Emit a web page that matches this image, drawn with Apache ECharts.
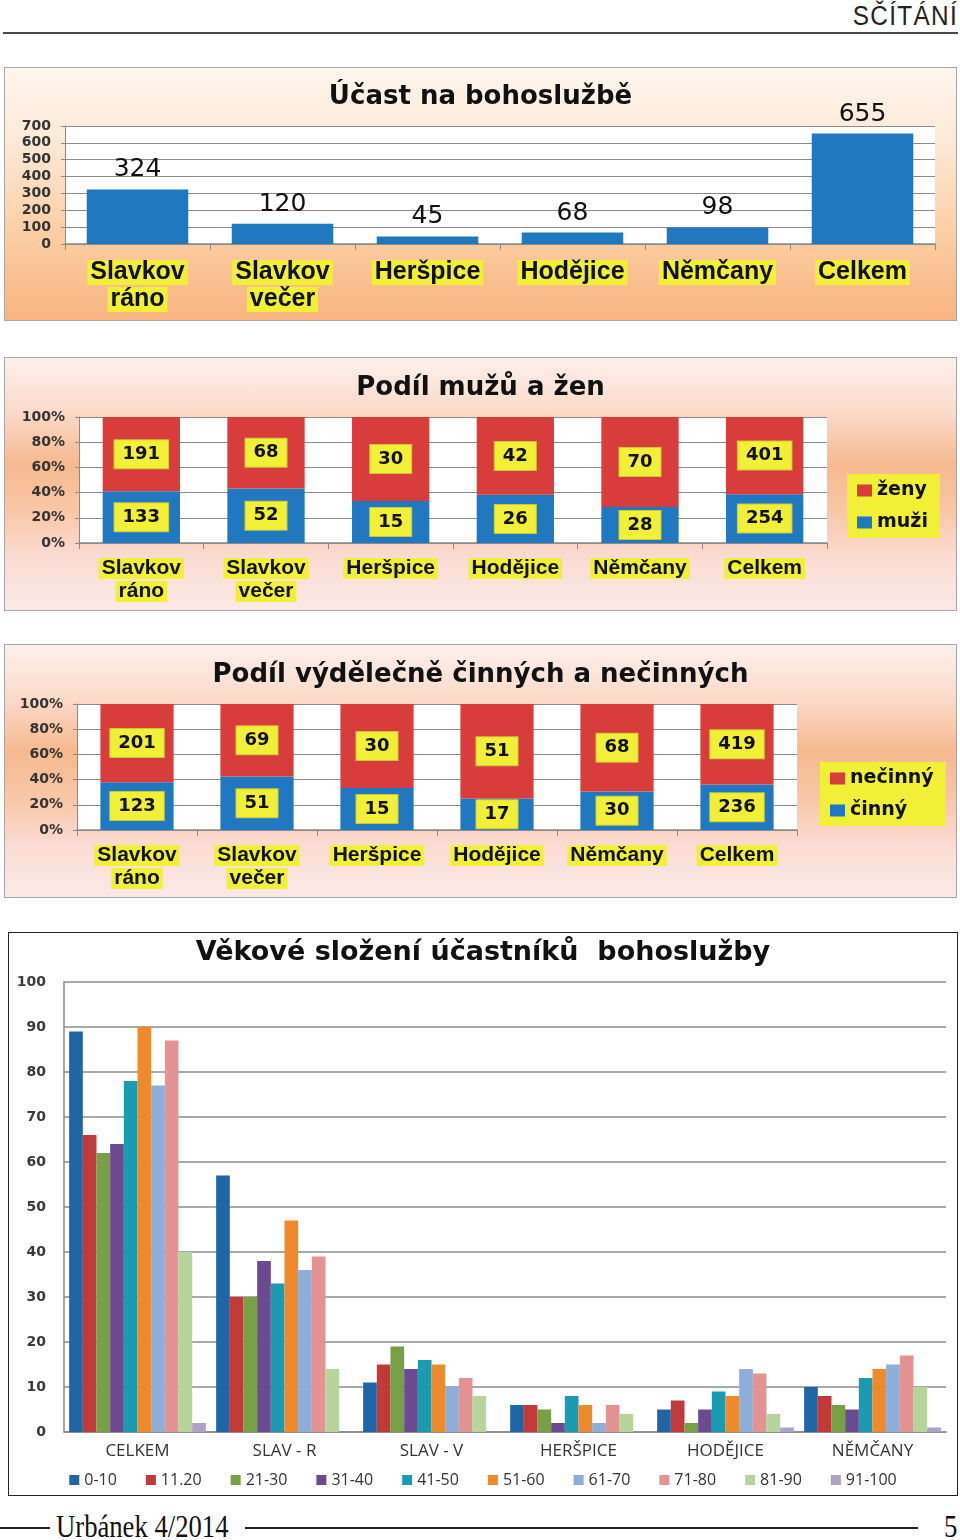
<!DOCTYPE html>
<html>
<head>
<meta charset="utf-8">
<script src="https://cdn.jsdelivr.net/npm/echarts@6/dist/echarts.min.js"></script>
<style>
  html, body { margin:0; padding:0; background:#fff; }
  body { width:960px; height:1540px; position:relative; overflow:hidden; }
  .box { position:absolute; box-sizing:border-box; }
  .chart { position:absolute; left:0; top:0; width:100%; height:100%; }
  #hdr { position:absolute; right:2px; top:1px; font-family:"Liberation Sans", Arial, sans-serif; font-size:27px; color:#222; letter-spacing:1.5px; transform:scaleX(0.9); transform-origin:right top; }
  #hdrline { position:absolute; left:3px; top:32px; width:955px; height:2px; background:#4a4a4a; }
  .fline { position:absolute; height:1.5px; background:#222; top:1527px; }
  .ftxt { position:absolute; font-family:"Liberation Serif", "Times New Roman", serif; font-size:31px; color:#111; top:1509px; transform:scaleX(0.86); transform-origin:left top; white-space:nowrap; }
</style>
</head>
<body>
<div id="hdr">SČÍTÁNÍ</div>
<div id="hdrline"></div>

<div class="box" style="left:4px;top:67px;width:953px;height:254px;border:1.5px solid #a6a6a6;background:linear-gradient(to bottom,#fef6ee 0%,#fde8d4 30%,#fbcfa6 65%,#f8b37e 100%);">
  <div id="c1" class="chart"></div>
</div>
<div class="box" style="left:4px;top:357px;width:953px;height:254px;border:1.5px solid #a6a6a6;background:linear-gradient(to bottom,#fdf0ec 0%,#fbd9c8 22%,#f7b98f 42%,#f8c6a6 60%,#fbdcd4 80%,#fce9e6 100%);">
  <div id="c2" class="chart"></div>
</div>
<div class="box" style="left:4px;top:644px;width:953px;height:254px;border:1.5px solid #a6a6a6;background:linear-gradient(to bottom,#fdf0ec 0%,#fbd9c8 22%,#f7b98f 42%,#f8c6a6 60%,#fbdcd4 80%,#fce9e6 100%);">
  <div id="c3" class="chart"></div>
</div>
<div class="box" style="left:8px;top:932px;width:950px;height:564px;border:1.5px solid #222;background:#fff;">
  <div id="c4" class="chart"></div>
</div>

<div class="fline" style="left:0;width:50px;"></div>
<div class="ftxt" style="left:56px;">Urbánek 4/2014</div>
<div class="fline" style="left:245px;width:673px;"></div>
<div class="ftxt" style="left:944px;">5</div>

<script>
// ---------- DATA ----------
var attendanceCategories = ['Slavkov\nráno', 'Slavkov\nvečer', 'Heršpice', 'Hodějice', 'Němčany', 'Celkem'];
var attendanceValues = [324, 120, 45, 68, 98, 655];
var attendanceTicks = [0, 100, 200, 300, 400, 500, 600, 700];

var genderCategories = ['Slavkov\nráno', 'Slavkov\nvečer', 'Heršpice', 'Hodějice', 'Němčany', 'Celkem'];
var womenCounts = [191, 68, 30, 42, 70, 401];
var menCounts = [133, 52, 15, 26, 28, 254];

var workCategories = ['Slavkov\nráno', 'Slavkov\nvečer', 'Heršpice', 'Hodějice', 'Němčany', 'Celkem'];
var inactiveCounts = [201, 69, 30, 51, 68, 419];
var activeCounts = [123, 51, 15, 17, 30, 236];

var ageCategories = ['CELKEM', 'SLAV - R', 'SLAV - V', 'HERŠPICE', 'HODĚJICE', 'NĚMČANY'];
var ageGroups = ['0-10', '11.20', '21-30', '31-40', '41-50', '51-60', '61-70', '71-80', '81-90', '91-100'];
var age_0_10   = [89, 57, 11, 6, 5, 10];
var age_11_20  = [66, 30, 15, 6, 7, 8];
var age_21_30  = [62, 30, 19, 5, 2, 6];
var age_31_40  = [64, 38, 14, 2, 5, 5];
var age_41_50  = [78, 33, 16, 8, 9, 12];
var age_51_60  = [90, 47, 15, 6, 8, 14];
var age_61_70  = [77, 36, 10, 2, 14, 15];
var age_71_80  = [87, 39, 12, 6, 13, 17];
var age_81_90  = [40, 14, 8, 4, 4, 10];
var age_91_100 = [2, 0, 0, 0, 1, 1];

// ---------- STYLE ----------
var YEL = '#f1ef36';
var RED = '#d83d3c';
var BLUE = '#2078c0';
var TITLE_FONT = '"DejaVu Sans", Verdana, sans-serif';

function catLabel(fontSize, lineHeight, margin) {
  return {
    interval: 0,
    margin: margin,
    formatter: function (v) {
      return v.split('\n').map(function (s) { return '{h|' + s + '}'; }).join('\n');
    },
    rich: {
      h: {
        backgroundColor: YEL, color: '#111', fontWeight: 'bold',
        fontFamily: '"Liberation Sans", Arial, sans-serif',
        fontSize: fontSize, lineHeight: lineHeight, padding: [0, 3]
      }
    }
  };
}

// Chart 1
var c1 = echarts.init(document.getElementById('c1'));
c1.setOption({
  animation: false,
  title: { text: 'Účast na bohoslužbě', left: 'center', top: 11,
    textStyle: { fontFamily: TITLE_FONT, fontWeight: 'bold', fontSize: 26, color: '#111' } },
  grid: { left: 60, right: 21, top: 58, bottom: 76, show: true, backgroundColor: '#fff', borderWidth: 0 },
  xAxis: {
    type: 'category', data: attendanceCategories,
    axisLine: { lineStyle: { color: '#8a8a8a', width: 1.5 } },
    axisTick: { show: true, length: 6, lineStyle: { color: '#8a8a8a' } },
    axisLabel: catLabel(25, 27, 15)
  },
  yAxis: {
    type: 'value', min: attendanceTicks[0], max: attendanceTicks[attendanceTicks.length - 1], interval: 100,
    axisLine: { show: true, lineStyle: { color: '#8a8a8a' } },
    axisTick: { show: true, length: 4, lineStyle: { color: '#8a8a8a' } },
    splitLine: { lineStyle: { color: '#8c8c8c', width: 1.2 } },
    axisLabel: { fontFamily: TITLE_FONT, fontSize: 14, fontWeight: 'bold', color: '#333', margin: 14 }
  },
  series: [{
    type: 'bar', data: attendanceValues, barWidth: '70%',
    itemStyle: { color: BLUE },
    label: { show: true, position: 'top', distance: 7, fontFamily: TITLE_FONT, fontSize: 25, color: '#111' }
  }]
});

var gridLeftMap = { c2: 74, c3: 72 };
function shareChart(el, title, cats, topCounts, botCounts, topName, botName, gridRight, legendLeft, legendTop, barW) {
  var totals = topCounts.map(function (t, i) { return t + botCounts[i]; });
  var botPct = botCounts.map(function (b, i) { return b / totals[i] * 100; });
  var topPct = topCounts.map(function (t, i) { return t / totals[i] * 100; });
  var lbl = function (arr) {
    return {
      show: true, position: 'inside',
      formatter: function (p) { return String(arr[p.dataIndex]); },
      backgroundColor: YEL, borderColor: '#c9c640', borderWidth: 1,
      padding: [6, 8, 4, 8], color: '#111', fontWeight: 'bold',
      fontFamily: TITLE_FONT, fontSize: 18
    };
  };
  var ch = echarts.init(document.getElementById(el));
  ch.setOption({
    animation: false,
    title: { text: title, left: 'center', top: 12,
      textStyle: { fontFamily: TITLE_FONT, fontWeight: 'bold', fontSize: 26, color: '#111' } },
    grid: { left: gridLeftMap[el], right: gridRight, top: 59, bottom: 67, show: true, backgroundColor: '#fff', borderWidth: 0 },
    legend: {
      data: [topName, botName], orient: 'vertical', left: legendLeft, top: legendTop,
      backgroundColor: YEL, padding: [7, 12, 6, 10], itemGap: 13,
      icon: 'rect', itemWidth: 15, itemHeight: 12,
      textStyle: { fontFamily: TITLE_FONT, fontWeight: 'bold', fontSize: 19, color: '#111' }
    },
    xAxis: {
      type: 'category', data: cats,
      axisLine: { lineStyle: { color: '#8a8a8a', width: 1.5 } },
      axisTick: { show: true, length: 6, lineStyle: { color: '#8a8a8a' } },
      axisLabel: catLabel(21, 23, 14)
    },
    yAxis: {
      type: 'value', min: 0, max: 100, interval: 20,
      axisLine: { show: true, lineStyle: { color: '#8a8a8a' } },
      axisTick: { show: true, length: 4, lineStyle: { color: '#8a8a8a' } },
      splitLine: { lineStyle: { color: '#8c8c8c', width: 1.2 } },
      axisLabel: { formatter: '{value}%', fontFamily: TITLE_FONT, fontSize: 14, fontWeight: 'bold', color: '#333', margin: 14 }
    },
    series: [
      { name: botName, type: 'bar', stack: 's', data: botPct, barWidth: barW, itemStyle: { color: BLUE }, label: lbl(botCounts) },
      { name: topName, type: 'bar', stack: 's', data: topPct, barWidth: barW, itemStyle: { color: RED }, label: lbl(topCounts) }
    ]
  });
}
shareChart('c2', 'Podíl mužů a žen', genderCategories, womenCounts, menCounts, 'ženy', 'muži', 129, 842, 116, '62%');
shareChart('c3', 'Podíl výdělečně činných a nečinných', workCategories, inactiveCounts, activeCounts, 'nečinný', 'činný', 159, 815, 117, '61%');

// Chart 4
var ageColors = ['#1f66a6', '#c2393a', '#76a043', '#6b4a92', '#1b9bb2', '#ef8a2c', '#8eadd8', '#e49393', '#b7d59b', '#ada0c9'];
var ageSeriesData = [age_0_10, age_11_20, age_21_30, age_31_40, age_41_50, age_51_60, age_61_70, age_71_80, age_81_90, age_91_100];
var c4 = echarts.init(document.getElementById('c4'));
c4.setOption({
  animation: false,
  title: { text: 'Věkové složení účastníků  bohoslužby', left: 'center', top: 1,
    textStyle: { fontFamily: TITLE_FONT, fontWeight: 'bold', fontSize: 27, color: '#111' } },
  grid: { left: 55, right: 11, top: 49, bottom: 63 },
  legend: {
    data: ageGroups, left: 'center', top: 534, icon: 'rect', itemWidth: 10, itemHeight: 10, itemGap: 29,
    textStyle: { fontFamily: '"Open Sans", sans-serif', fontSize: 16, color: '#333' }
  },
  xAxis: {
    type: 'category', data: ageCategories,
    axisLine: { lineStyle: { color: '#8a8a8a', width: 1.5 } },
    axisTick: { show: false },
    axisLabel: { interval: 0, margin: 11, fontFamily: '"Open Sans", sans-serif', fontSize: 17, color: '#333' }
  },
  yAxis: {
    type: 'value', min: 0, max: 100, interval: 10,
    axisLine: { show: true, lineStyle: { color: '#8a8a8a', width: 1.5 } },
    axisTick: { show: false },
    splitLine: { lineStyle: { color: '#8c8c8c', width: 1.5 } },
    axisLabel: { fontFamily: TITLE_FONT, fontSize: 14, fontWeight: 'bold', color: '#3a3a3a', margin: 18 }
  },
  series: ageGroups.map(function (g, i) {
    return { name: g, type: 'bar', data: ageSeriesData[i], barGap: '0%', barCategoryGap: '7%', itemStyle: { color: ageColors[i] } };
  })
});
</script>
</body>
</html>
